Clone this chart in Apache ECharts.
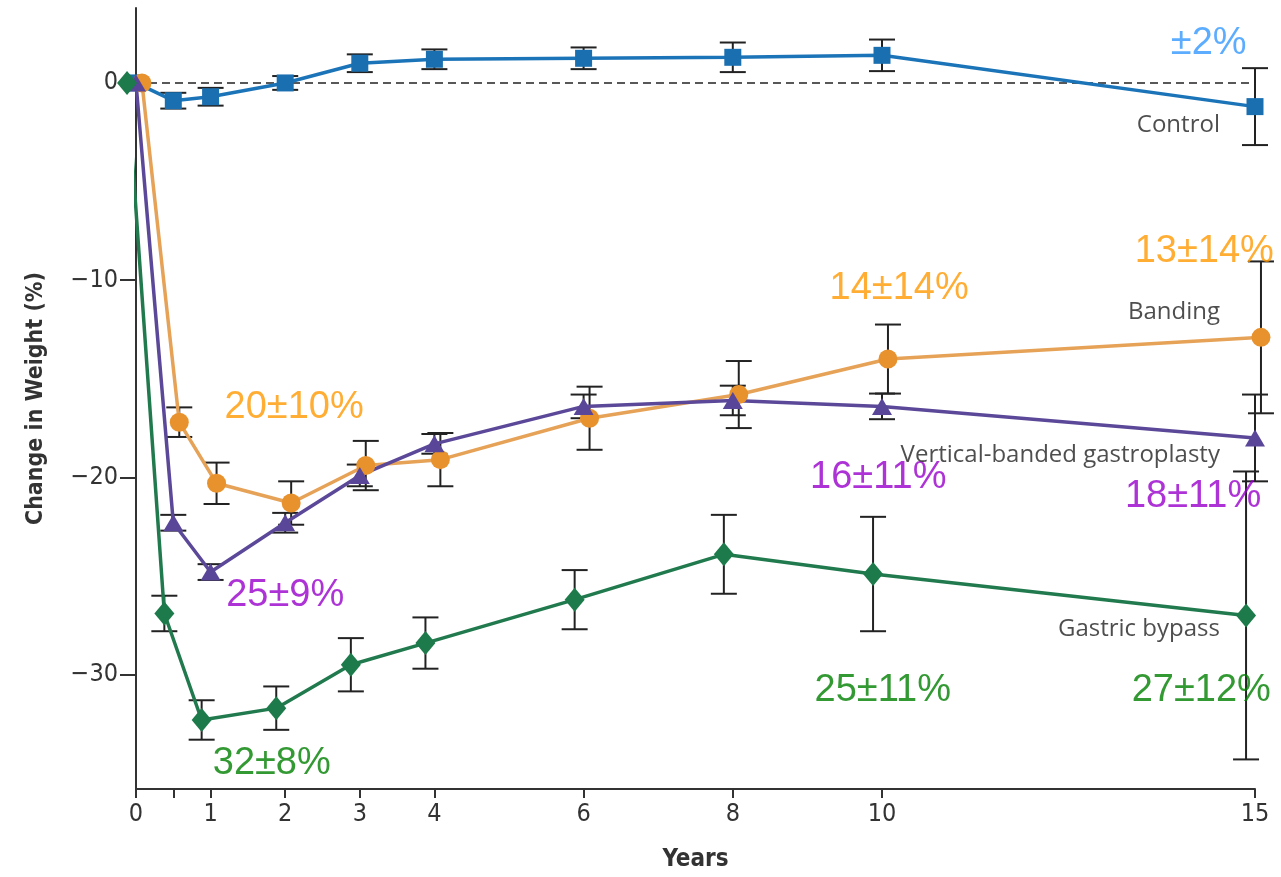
<!DOCTYPE html>
<html>
<head>
<meta charset="utf-8">
<script src="https://cdn.jsdelivr.net/npm/echarts@6/dist/echarts.min.js"></script>
<style>
  html, body { margin: 0; padding: 0; background: #fff; }
  #chart { width: 1281px; height: 877px; }
</style>
</head>
<body>
<div id="chart"></div>
<script>
// Follow-up time points (years)
const years = [0, 0.5, 1, 2, 3, 4, 6, 8, 10, 15];

// Mean change in weight (%) and standard errors per group
const control    = [0, -0.9, -0.7, 0.0, 1.0, 1.2, 1.25, 1.3, 1.4, -1.2];
const controlErr = [0, 0.4, 0.45, 0.35, 0.45, 0.5, 0.55, 0.75, 0.8, 1.95];
const banding    = [0, -17.2, -20.3, -21.3, -19.4, -19.1, -17.0, -15.8, -14.0, -12.9];
const bandingErr = [0, 0.75, 1.05, 1.1, 1.25, 1.35, 1.6, 1.7, 1.75, 3.85];
const vbg        = [0, -22.3, -24.8, -22.3, -19.9, -18.3, -16.4, -16.1, -16.4, -18.0];
const vbgErr     = [0, 0.4, 0.4, 0.5, 0.55, 0.5, 0.6, 0.75, 0.65, 2.2];
const bypass     = [0, -26.9, -32.3, -31.7, -29.5, -28.4, -26.2, -23.9, -24.9, -27.0];
const bypassErr  = [0, 0.9, 1.0, 1.1, 1.35, 1.3, 1.5, 2.0, 2.9, 7.3];

// Group names
const groupNames = ['Control', 'Banding', 'Vertical-banded gastroplasty', 'Gastric bypass'];

// Axis ticks
const xTickLabels = [0, 1, 2, 3, 4, 6, 8, 10, 15];
const xTicks = [0, 0.5, 1, 2, 3, 4, 6, 8, 10, 15];
const yTickLabels = [0, -10, -20, -30];

// Callouts: group, time point index, standard deviation (%)
const noteGroup = ['control', 'banding', 'banding', 'banding', 'vbg', 'vbg', 'vbg', 'bypass', 'bypass', 'bypass'];
const noteIndex = [9, 2, 8, 9, 2, 8, 9, 2, 8, 9];
const noteSD    = [2, 10, 14, 14, 9, 11, 11, 8, 11, 12];

// ---- layout / style ----
const groups = {
  control: { vals: control, err: controlErr, shift: 0,     symbol: 'rect',     size: 17,       line: '#1c74b8', mark: '#1a6fb0', note: '#3399ff' },
  banding: { vals: banding, err: bandingErr, shift: 0.08,  symbol: 'circle',   size: 19,       line: '#e6a257', mark: '#e8922e', note: '#ff9900' },
  vbg:     { vals: vbg,     err: vbgErr,     shift: 0,     symbol: 'triangle', size: [20, 17], line: '#5b4898', mark: '#5a4699', note: '#9900cc' },
  bypass:  { vals: bypass,  err: bypassErr,  shift: -0.12, symbol: 'diamond',  size: [20, 24], line: '#217a4e', mark: '#1d7a4a', note: '#008000' }
};
const groupOrder = ['control', 'banding', 'vbg', 'bypass'];

// Callout text centres (data units)
const noteAt = [[14.38, 2.0], [2.12, -16.45], [10.23, -10.4], [14.32, -8.55],
                [2.0, -25.98], [9.95, -20.03], [14.17, -20.99],
                [1.82, -34.5], [10.01, -30.83], [14.28, -30.83]];
// Group name anchors (right edge, data units)
const nameAt = [[14.53, -2.12], [14.53, -11.6], [14.53, -18.85], [14.53, -27.7]];

const axisFont = "'DejaVu Sans Condensed', 'Liberation Sans Narrow', sans-serif";
const minus = v => (v < 0 ? '\u2212' + Math.abs(v) : String(v));

function renderErr(params, api) {
  const x = api.value(0);
  const lo = api.coord([x, api.value(1)]);
  const hi = api.coord([x, api.value(2)]);
  const hw = 13;
  const st = { stroke: '#222', lineWidth: 2 };
  return {
    type: 'group',
    children: [
      { type: 'line', shape: { x1: lo[0], y1: lo[1], x2: hi[0], y2: hi[1] }, style: st },
      { type: 'line', shape: { x1: lo[0] - hw, y1: lo[1], x2: lo[0] + hw, y2: lo[1] }, style: st },
      { type: 'line', shape: { x1: hi[0] - hw, y1: hi[1], x2: hi[0] + hw, y2: hi[1] }, style: st }
    ]
  };
}

const series = [];
groupOrder.forEach((key, gi) => {
  const g = groups[key];
  const pts = years.map((t, i) => [t + g.shift, g.vals[i]]);
  const bars = years.map((t, i) => [t + g.shift, g.vals[i] - g.err[i], g.vals[i] + g.err[i]])
                    .filter((d, i) => g.err[i] > 0);
  series.push({
    name: groupNames[gi] + ' SE',
    type: 'custom',
    renderItem: renderErr,
    data: bars,
    clip: false,
    z: 2,
    silent: true
  });
  const s = {
    name: groupNames[gi],
    type: 'line',
    data: pts,
    clip: false,
    symbol: g.symbol,
    symbolSize: g.size,
    showAllSymbol: true,
    lineStyle: { color: g.line, width: 3.5 },
    itemStyle: { color: g.mark },
    z: 3,
    animation: false
  };
  if (key === 'control') {
    s.markLine = {
      silent: true,
      symbol: 'none',
      label: { show: false },
      lineStyle: { color: '#222', type: [8, 5], width: 1.6 },
      data: [{ yAxis: 0 }],
      z: 1
    };
  }
  series.push(s);
});

// Callout labels (mean ± SD)
series.push({
  name: 'notes',
  type: 'scatter',
  symbolSize: 1,
  itemStyle: { color: 'rgba(0,0,0,0)' },
  silent: true,
  clip: false,
  z: 5,
  data: noteGroup.map((k, i) => {
    const g = groups[k];
    const mean = Math.round(Math.abs(g.vals[noteIndex[i]]));
    const text = (k === 'control' ? '' : mean) + '\u00b1' + noteSD[i] + '%';
    return {
      value: noteAt[i],
      label: {
        show: true, position: 'inside', formatter: text,
        color: g.note, fontSize: 38, fontFamily: "'Liberation Sans', Arial, sans-serif"
      }
    };
  })
});

// Group names
series.push({
  name: 'names',
  type: 'scatter',
  symbolSize: 1,
  itemStyle: { color: 'rgba(0,0,0,0)' },
  silent: true,
  z: 5,
  data: groupNames.map((n, i) => ({
    value: nameAt[i],
    label: {
      show: true, position: 'inside', align: 'right', formatter: n,
      color: '#222', fontSize: 24, fontFamily: "'Open Sans', sans-serif"
    }
  }))
});

const chart = echarts.init(document.getElementById('chart'), null, { renderer: 'canvas' });
chart.setOption({
  animation: false,
  backgroundColor: '#fff',
  grid: { left: 136, right: 26, top: 8, bottom: 84, containLabel: false },
  xAxis: {
    type: 'value', min: 0, max: 15,
    name: 'Years', nameLocation: 'middle', nameGap: 59,
    nameTextStyle: { fontSize: 24, fontWeight: 'bold', color: '#333', fontFamily: axisFont },
    axisLine: { onZero: false, lineStyle: { color: '#333', width: 2 } },
    axisTick: { show: true, customValues: xTicks, length: 9, lineStyle: { color: '#333', width: 2 } },
    axisLabel: { customValues: xTickLabels, margin: 13, fontSize: 25, color: '#333', fontFamily: axisFont },
    splitLine: { show: false }
  },
  yAxis: {
    type: 'value', min: -35.8, max: 3.8,
    name: 'Change in Weight (%)', nameLocation: 'middle', nameGap: 88, nameRotate: 90,
    nameTextStyle: { fontSize: 23, fontWeight: 'bold', color: '#333', fontFamily: axisFont },
    axisLine: { onZero: false, lineStyle: { color: '#333', width: 2 } },
    axisTick: { show: true, customValues: yTickLabels, length: 16, lineStyle: { color: '#333', width: 2 } },
    axisLabel: { customValues: yTickLabels, margin: 18, fontSize: 25, color: '#333', fontFamily: axisFont, formatter: minus },
    splitLine: { show: false }
  },
  series: series
});
</script>
</body>
</html>
